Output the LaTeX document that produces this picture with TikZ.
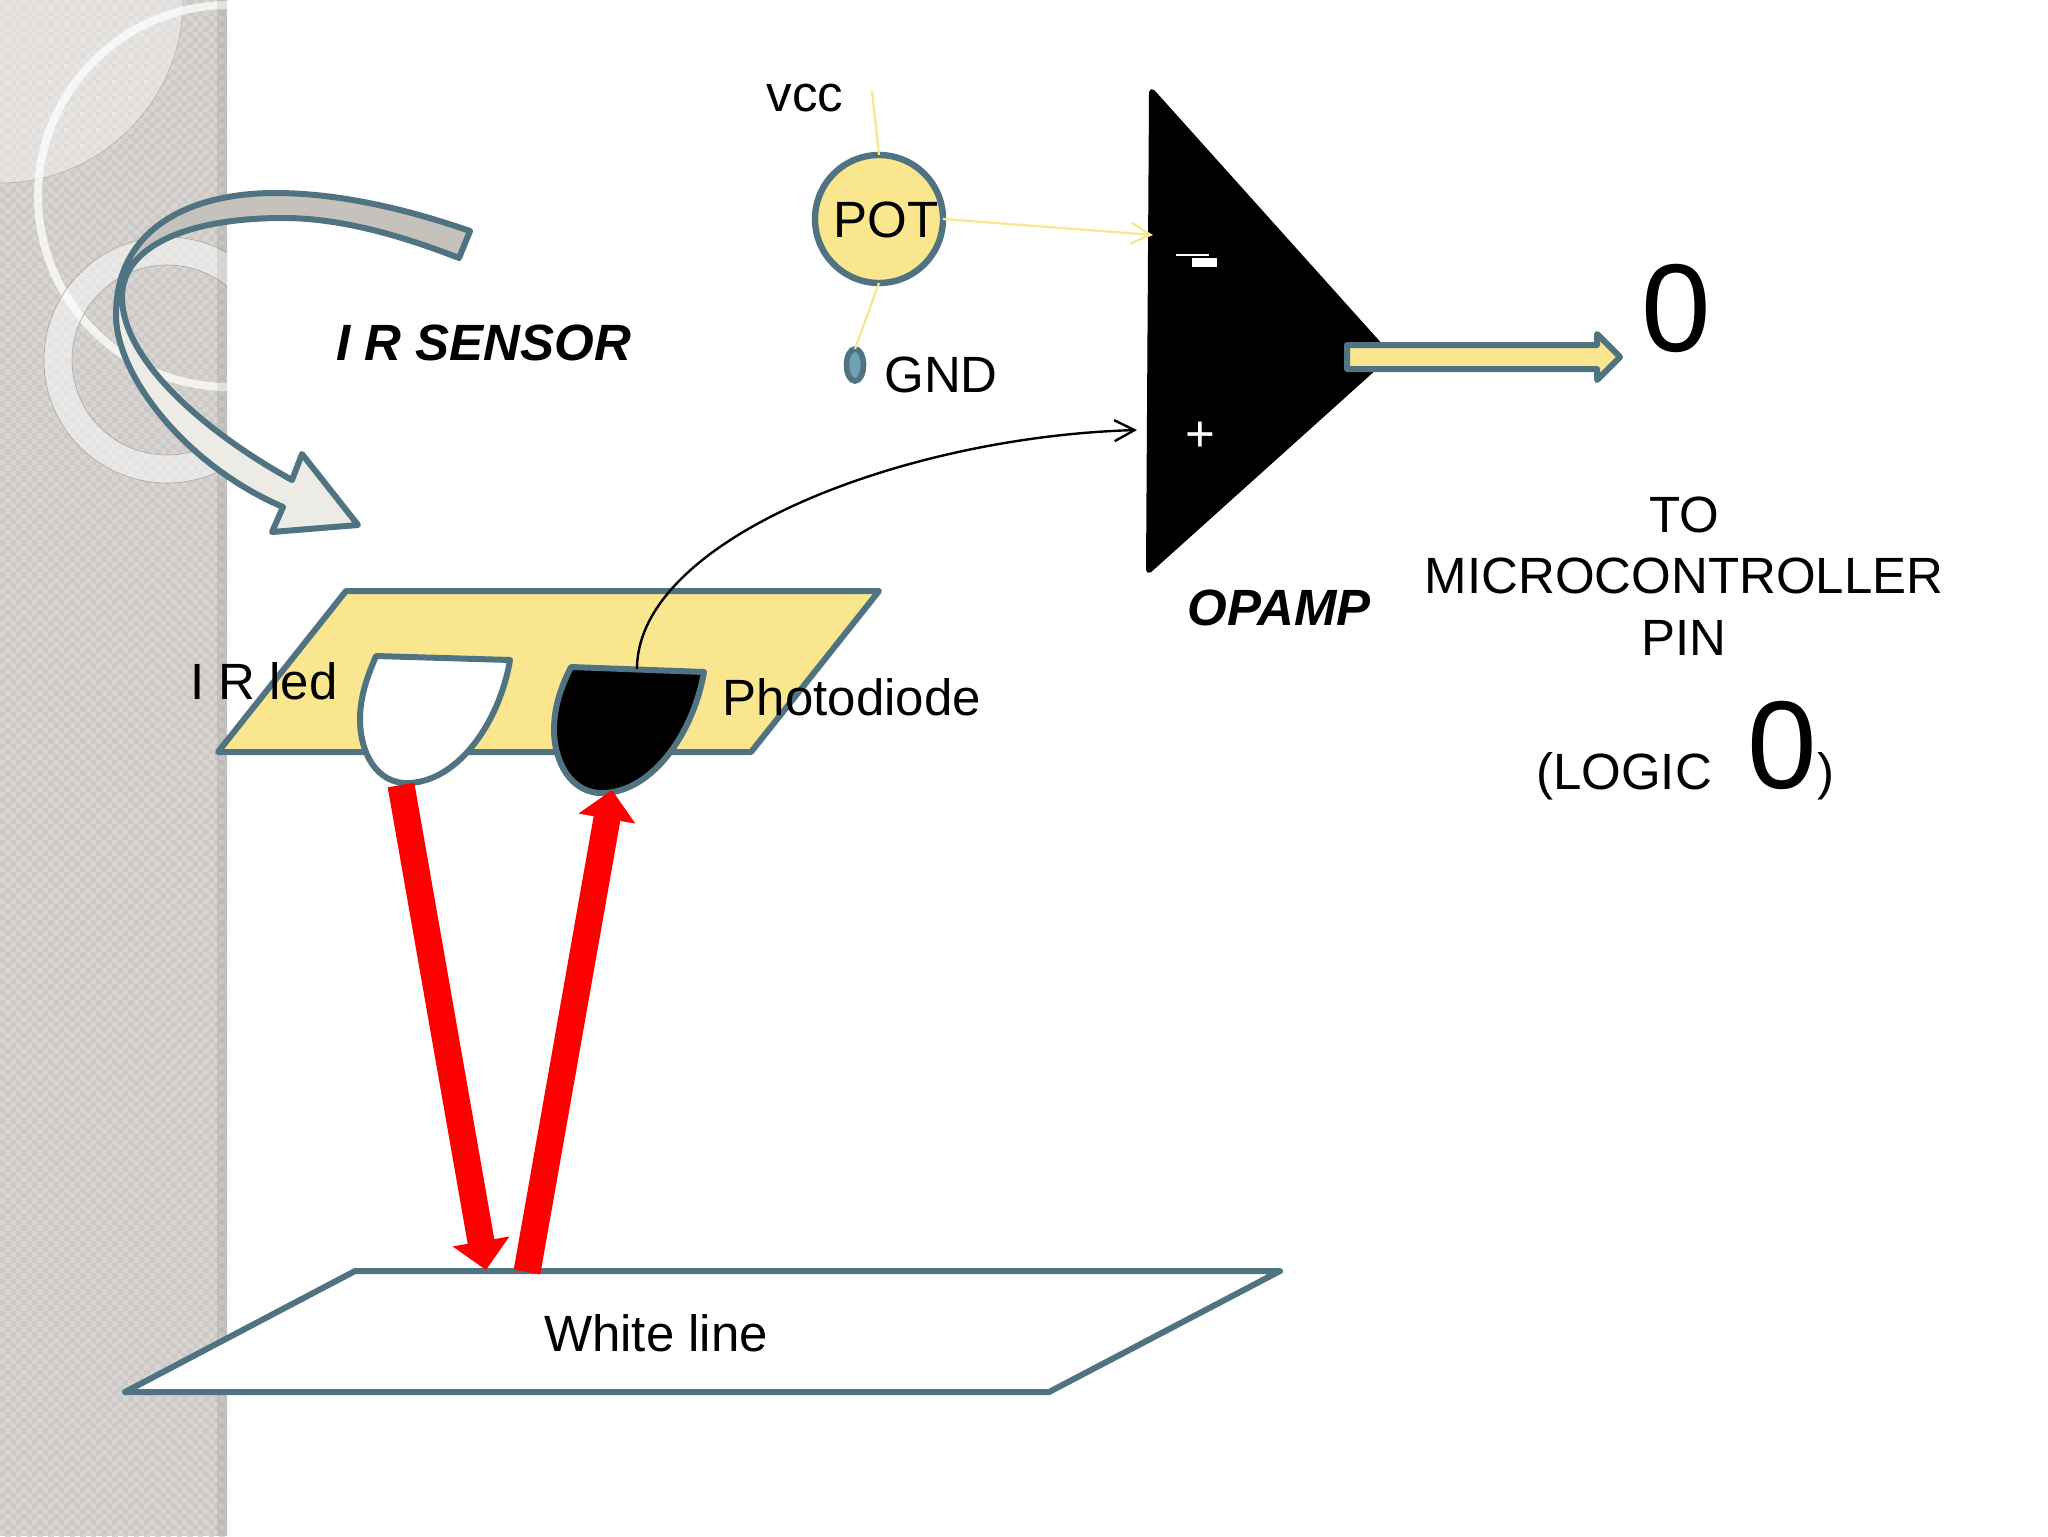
\documentclass[tikz,border=0pt]{standalone}
\usepackage{fontspec}
\setmainfont{Liberation Sans}
\usetikzlibrary{positioning, arrows.meta, shapes.geometric}

\definecolor{bandgrey}{HTML}{CDC9C6}
\definecolor{tilegrey}{HTML}{D7D4D1}
\definecolor{foldgrey}{HTML}{C5C1BB}
\definecolor{foldlight}{HTML}{EDEBE6}
\definecolor{boardyellow}{HTML}{F9E68F}
\definecolor{rimteal}{HTML}{507381}
\definecolor{dotblue}{HTML}{6FA1B3}
\definecolor{beamred}{HTML}{FF0000}

\newcommand{\bodysize}{\fontsize{25.5}{30.8}\selectfont}
\newcommand{\bigsize}{\fontsize{62.5}{70}\selectfont}
\newcommand{\swooshpath}{(470,231) .. controls (395,205) and (330,193) .. (275,193)
  .. controls (195,193) and (116,225) .. (116,315)
  .. controls (116,375) and (185,465) .. (283,507)
  -- (272,532) -- (358,525) -- (302,454) -- (292,480)
  .. controls (205,432) and (122,360) .. (122,297)
  .. controls (122,245) and (190,218) .. (283,218)
  .. controls (340,218) and (400,235) .. (459,258) -- cycle}

\tikzset{
  label text/.style={font=\bodysize, inner sep=0pt, anchor=base},
  title text/.style={font=\bodysize\bfseries\itshape, inner sep=0pt, anchor=base},
  huge text/.style={font=\bigsize, inner sep=0pt, anchor=base},
  rim/.style={draw=rimteal, line width=3pt, line join=round},
  wire/.style={draw=boardyellow, line width=1.1pt},
  beam/.style={draw=beamred, line width=13.5pt, -{Triangle[length=14.5pt, width=28pt]}},
}

\begin{document}
\begin{tikzpicture}[x=0.5pt, y=-0.5pt, >={Straight Barb[length=10pt, width=10.5pt]}]

\useasboundingbox (0,0) rectangle (2048,1536);
\fill[white] (0,0) rectangle (2048,1536);

\begin{scope}
\clip (0,0) rectangle (227,1536);
\fill[bandgrey] (0,0) rectangle (227,1536);
\foreach \row in {0,...,143} {
  \foreach \col in {0,...,21} {
    \fill[tilegrey] ({\col*10.7},{\row*10.7}) rectangle +(5.35,5.35);
    \fill[tilegrey] ({\col*10.7+5.35},{\row*10.7+5.35}) rectangle +(5.35,5.35);
  }
}
\begin{scope}
\clip (0,0) rectangle (184,183);
\fill[white, fill opacity=0.4, draw=gray!60, line width=0.3pt] (0,0) circle (91.5pt);
\end{scope}
\draw[white, opacity=0.75, line width=4pt] (229,196) circle (95.5pt);
\fill[white, fill opacity=0.5, draw=gray!70, line width=0.3pt, even odd rule] (167,360) circle (61.5pt) (167,360) circle (47.5pt);
\fill[black, opacity=0.07] (217,0) rectangle (227,1536);
\end{scope}

\fill[foldlight] \swooshpath;
\begin{scope}
\clip (130,150) rectangle (500,262);
\fill[foldgrey] \swooshpath;
\end{scope}
\draw[rim] \swooshpath;

\node (sensor) [title text] at (484,360) {I R SENSOR};

\draw[rim, fill=boardyellow] (346,591) -- (879,591) -- (751,752) -- (218,752) -- cycle;
\draw[rim, fill=white] (376,656) -- (510,660) .. controls (500,720) and (460,780) .. (410,783)
  .. controls (375,785) and (360,750) .. (360,720) .. controls (360,695) and (368,675) .. (376,656) -- cycle;
\draw[rim, fill=black] (571,667) -- (704,672) .. controls (694,730) and (655,790) .. (605,793)
  .. controls (570,795) and (554,760) .. (554,730) .. controls (554,705) and (562,685) .. (571,667) -- cycle;
\node (irled) [label text] at (264,699) {I R led};
\node (photodiode) [label text] at (852,715) {Photodiode};

\draw[rim, fill=white] (355,1271) -- (1280,1271) -- (1049,1392) -- (125,1392) -- cycle;
\node (whiteline) [label text] at (656,1351) {White line};

\coordinate (ledout) at (401,785);
\coordinate (linehit) at (486,1270);
\coordinate (lineout) at (527,1272);
\coordinate (diodein) at (612,790);
\draw[beam] (ledout) -- (linehit);
\draw[beam] (lineout) -- (diodein);

\fill[black, draw=black, line width=3pt, line join=round] (1152,92) -- (1388,355) -- (1149,570) -- cycle;
\draw[white, line width=1pt] (1176,255) -- (1209,255);
\fill[white] (1192,258) rectangle (1217,267);
\node (plus) [label text, text=white] at (1200,451) {+};

\draw[rim, fill=boardyellow] (1347,345) -- (1597,345) -- (1597,334) -- (1620,357) -- (1597,380) -- (1597,369) -- (1347,369) -- cycle;

\node (pot) [circle, draw=rimteal, fill=boardyellow, line width=3.2pt, minimum size=64pt, inner sep=0pt, outer sep=0pt] at (879,219) {};
\node (pottext) [label text] at (886,237) {POT};
\node (gnddot) [ellipse, draw=rimteal, fill=dotblue, line width=2.8pt, minimum width=8.5pt, minimum height=16pt, inner sep=0pt, outer sep=0pt] at (855,365) {};
\node (vcc) [label text] at (805,112) {vcc};
\node (gnd) [label text] at (941,392) {GND};

\coordinate (vccend) at (872,91);
\coordinate (minusin) at (1153,235);
\coordinate (diodetop) at (637,669);
\coordinate (plusin) at (1137,430);
\draw[wire] (vccend) -- (pot.north);
\draw[wire] (pot.south) -- (gnddot.north);
\draw[wire, ->] (pot.east) -- (minusin);
\draw[->, line width=1.2pt] (diodetop) .. controls (637,540) and (900,437) .. (plusin);

\node (opamp) [title text] at (1279,625) {OPAMP};
\node (outzero) [huge text] at (1676,351) {0};
\node (topin) [font=\bodysize, inner sep=0pt, align=center] at (1684,576) {TO\\MICROCONTROLLER\\PIN};
\node (logic) [label text] at (1624,789) {(LOGIC};
\node (logiczero) [huge text] at (1782,788) {0};
\node (logicend) [label text] at (1826,789) {)};

\end{tikzpicture}
\end{document}
